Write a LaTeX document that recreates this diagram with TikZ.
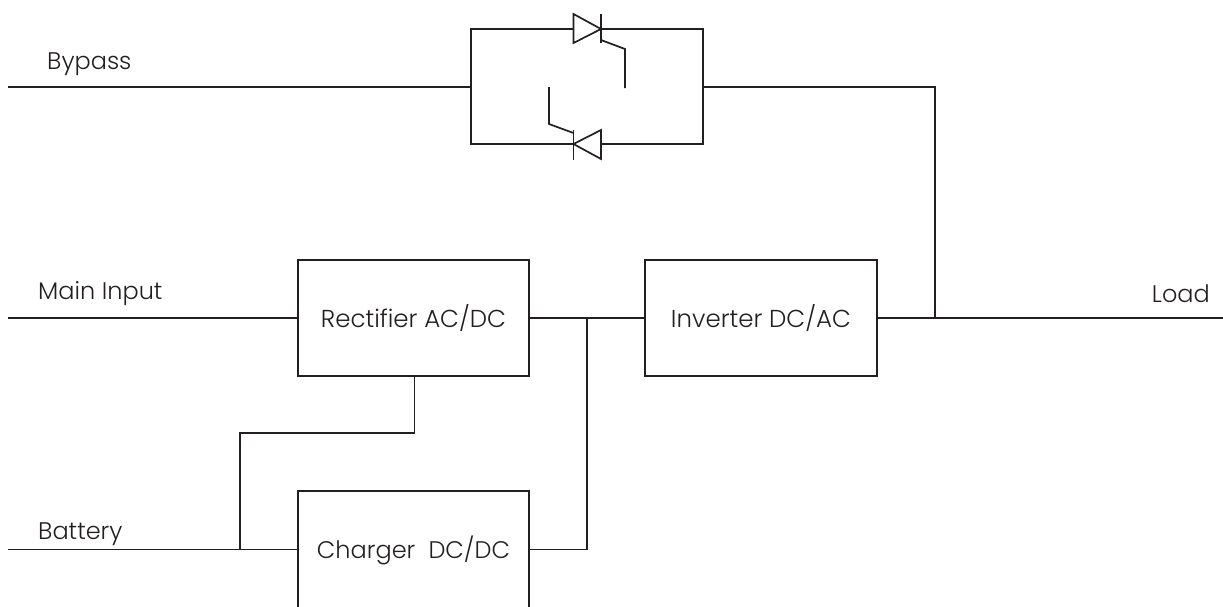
\documentclass[tikz,border=0pt]{standalone}
\usepackage{fontspec}
\setmainfont{Poppins Light}
\definecolor{ink}{HTML}{231F20}
\tikzset{
  wire/.style={draw=ink,line width=1.7pt,line join=miter},
  blockbox/.style={draw=ink,line width=1.7pt,minimum width=231.5pt,minimum height=116pt,inner sep=0pt,text=ink,font=\fontsize{24.5}{30}\selectfont},
  lab/.style={text=ink,inner sep=0pt,font=\fontsize{24}{28}\selectfont}
}
\begin{document}
\begin{tikzpicture}[x=1pt,y=-1pt]
\useasboundingbox (0,0) rectangle (1223,606);
\clip (0,0) rectangle (1223,606);
% blocks
\node[blockbox] (rect) at (413.5,318.2) {\raisebox{1.5pt}{Rectifier AC/DC}};
\node[blockbox] (inv) at (761,318.2) {\raisebox{1.5pt}{Inverter DC/AC}};
\node[blockbox,minimum height=118pt,font=\fontsize{24}{30}\selectfont] (chg) at (413.5,550) {\raisebox{1.5pt}{Charger\ \ DC/DC}};
% free ends and junctions
\coordinate (bypassin) at (8,87);
\coordinate (mainin) at (8,318.2);
\coordinate (battin) at (8,549.5);
\coordinate (loadout) at (1223,318.2);
\coordinate (jload) at (935,318.2);
\coordinate (jdc) at (587,318.2);
\coordinate (jbatt) at (240,549.5);
\coordinate (jrect) at (414.5,433);
\coordinate (swl) at (471,87);
\coordinate (swr) at (703,87);
\coordinate (sc1a) at (573.5,29);
\coordinate (sc1k) at (601,29);
\coordinate (sc2a) at (601,144);
\coordinate (sc2k) at (573.5,144);
% wires
\draw[wire] (bypassin) -- (swl);
\draw[wire] (swl) |- (sc1a);
\draw[wire] (swl) |- (sc2k);
\draw[wire] (sc1k) -| (swr);
\draw[wire] (sc2a) -| (swr);
\draw[wire] (swr) -| (jload);
\draw[wire] (mainin) -- (rect.west);
\draw[wire] (rect.east) -- (inv.west);
\draw[wire] (inv.east) -- (loadout);
\draw[wire] (battin) -- (chg.west |- battin);
\draw[wire] (rect.south -| jrect) -- (jrect) -| (jbatt);
\draw[wire] (chg.east |- battin) -| (jdc);
% upper thyristor
\draw[wire] (sc1a) -- (573.5,14) -- (sc1k) -- (573.5,43) -- cycle;
\draw[wire] (601,14) -- (601,43);
\draw[wire] (601,40) -- (625,49) -- (625,88);
% lower thyristor
\draw[wire] (sc2a) -- (601,130) -- (sc2k) -- (601,159) -- cycle;
\draw[wire] (573.5,130) -- (573.5,160);
\draw[wire] (573.5,133) -- (549,124) -- (549,87);
% labels
\node[lab,anchor=base west] (lbypass) at (47,69) {Bypass};
\node[lab,anchor=base west] (lmain) at (38,299) {Main Input};
\node[lab,anchor=base west] (lbatt) at (38,539.5) {Battery};
\node[lab,anchor=base east] (lload) at (1210,302.5) {Load};
\end{tikzpicture}
\end{document}
